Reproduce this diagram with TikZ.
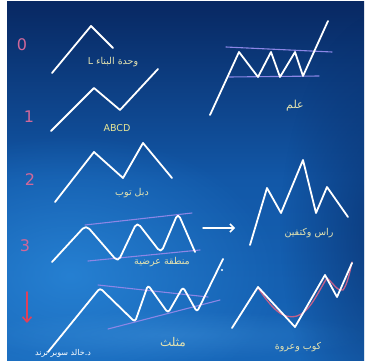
\documentclass[tikz,border=0pt]{standalone}
\usepackage{fontspec}
\setmainfont{DejaVu Sans}
\newfontfamily\arabicfont[Script=Arabic]{DejaVu Sans}
\TeXXeTstate=1
\usetikzlibrary{fadings,arrows.meta}
\definecolor{bgtop}{HTML}{082862}
\definecolor{bgmid}{HTML}{1258A8}
\definecolor{bgbot}{HTML}{1766B8}
\definecolor{glow}{HTML}{2A88DA}
\definecolor{lbl}{HTML}{E6E4B0}
\definecolor{numc}{HTML}{D0689A}
\definecolor{purp}{HTML}{8C86E6}
\definecolor{cupc}{HTML}{C4608A}
\definecolor{arrc}{HTML}{E0405A}
\tikzfading[name=softglow, inner color=transparent!0, outer color=transparent!100]
\tikzset{
  pat/.style={draw=white, line width=1.8pt, line cap=round, line join=round},
  chan/.style={draw=purp, line width=1.1pt, line cap=round},
  lab/.style={text=lbl, font=\arabicfont\fontsize{9.5}{10}\selectfont, inner sep=0pt},
  numlab/.style={text=numc, font=\fontsize{16}{17}\selectfont, inner sep=0pt},
}
\begin{document}
\begin{tikzpicture}[x=1pt,y=-1pt]
\useasboundingbox (0,0) rectangle (365,364);
\fill[white] (0,0) rectangle (365,364);
% background
\shade[top color=bgtop, bottom color=bgbot, middle color=bgmid] (7,1) rectangle (364,360);
\begin{scope}
\clip (7,1) rectangle (364,360);
\fill[glow, path fading=softglow, opacity=0.8] (70,275) ellipse (210 and 140);
\fill[glow!85!white, path fading=softglow, opacity=0.35] (170,335) ellipse (200 and 25);
\fill[bgtop, path fading=softglow, opacity=0.7] (390,230) ellipse (110 and 220);
\end{scope}

% numerals
\node[numlab] (n0) at (22,45) {0};
\node[numlab] (n1) at (29,117) {1};
\node[numlab] (n2) at (30,180) {2};
\node[numlab] (n3) at (25,246) {3};
\coordinate (a4s) at (27,292);
\coordinate (a4e) at (27,323);
\draw[draw=arrc, line width=1.6pt, line cap=round, -{Straight Barb[length=5pt,width=9pt]}] (a4s) -- (a4e);

% pattern 0
\draw[pat] (52,73) -- (91,26) -- (113,48);
\node[lab] (l0) at (113,62) {\beginR وحدة البناء \beginL L\endL\endR};

% pattern 1 ABCD
\draw[pat] (51,131) -- (94,88) -- (120,110) -- (158,69);
\node[text=lbl!85!yellow, font=\fontsize{9.5}{10}\selectfont, inner sep=0pt] (l1) at (117,128) {ABCD};

% pattern 2 double top
\draw[pat] (55,202) -- (94,152) -- (123,178) -- (143,143) -- (172,178);
\node[lab] (l2) at (132,193) {\beginR دبل توب\endR};

% pattern 3 range
\draw[chan] (85,225) -- (192,213);
\draw[chan] (88,261) -- (200,250);
\draw[pat, rounded corners=5pt] (52,262) -- (86,225) -- (118,262) -- (137,222) -- (161,253) -- (178,213) -- (195,252);
\node[lab] (l3) at (162,262) {\beginR منطقة عرضية\endR};

% arrow
\coordinate (ar1) at (203,228);
\coordinate (ar2) at (235,228);
\draw[white, line width=1.5pt, line cap=round, -{Straight Barb[length=4pt,width=8pt]}] (ar1) -- (ar2);

% pattern 4 triangle
\draw[chan] (98,285) -- (208,297);
\draw[chan] (108,329) -- (220,300);
\draw[pat, rounded corners=3pt] (48,352) -- (100,288) -- (135,322) -- (148,285) -- (168,313) -- (183,287) -- (197,312) -- (223,259);
\fill[white] (222,270) circle (1.2);
\node[lab, font=\arabicfont\fontsize{12}{13}\selectfont] (l4) at (173,342) {\beginR مثلث\endR};
\node[text=white, font=\arabicfont\fontsize{8}{9}\selectfont, inner sep=0pt] (cr) at (63,353) {\beginR د.خالد سوبر ترند\endR};

% flag
\draw[chan] (226,47) -- (332,52);
\draw[chan] (229,77) -- (319,76);
\draw[pat] (210,115) -- (239,52) -- (258,77) -- (271,52) -- (280,77) -- (295,52) -- (303,76) -- (328,21);
\node[lab, font=\arabicfont\fontsize{11}{12}\selectfont] (lf) at (295,106) {\beginR علم\endR};

% head and shoulders
\draw[pat] (250,245) -- (267,188) -- (281,213) -- (303,160) -- (316,213) -- (327,187) -- (348,217);
\node[lab] (lh) at (309,233) {\beginR راس وكتفين\endR};

% cup and handle
\draw[cupc, line width=1.3pt, line cap=round] (258,288) .. controls (272,308) and (282,320) .. (297,316) .. controls (310,312) and (318,292) .. (327,278) .. controls (333,283) and (338,292) .. (343,290) .. controls (347,285) and (350,272) .. (352,262);
\draw[pat] (232,328) -- (258,287) -- (295,327) -- (325,275) -- (337,297) -- (352,263);
\node[lab] (lc) at (298,347) {\beginR كوب وعروة\endR};
\end{tikzpicture}
\end{document}
